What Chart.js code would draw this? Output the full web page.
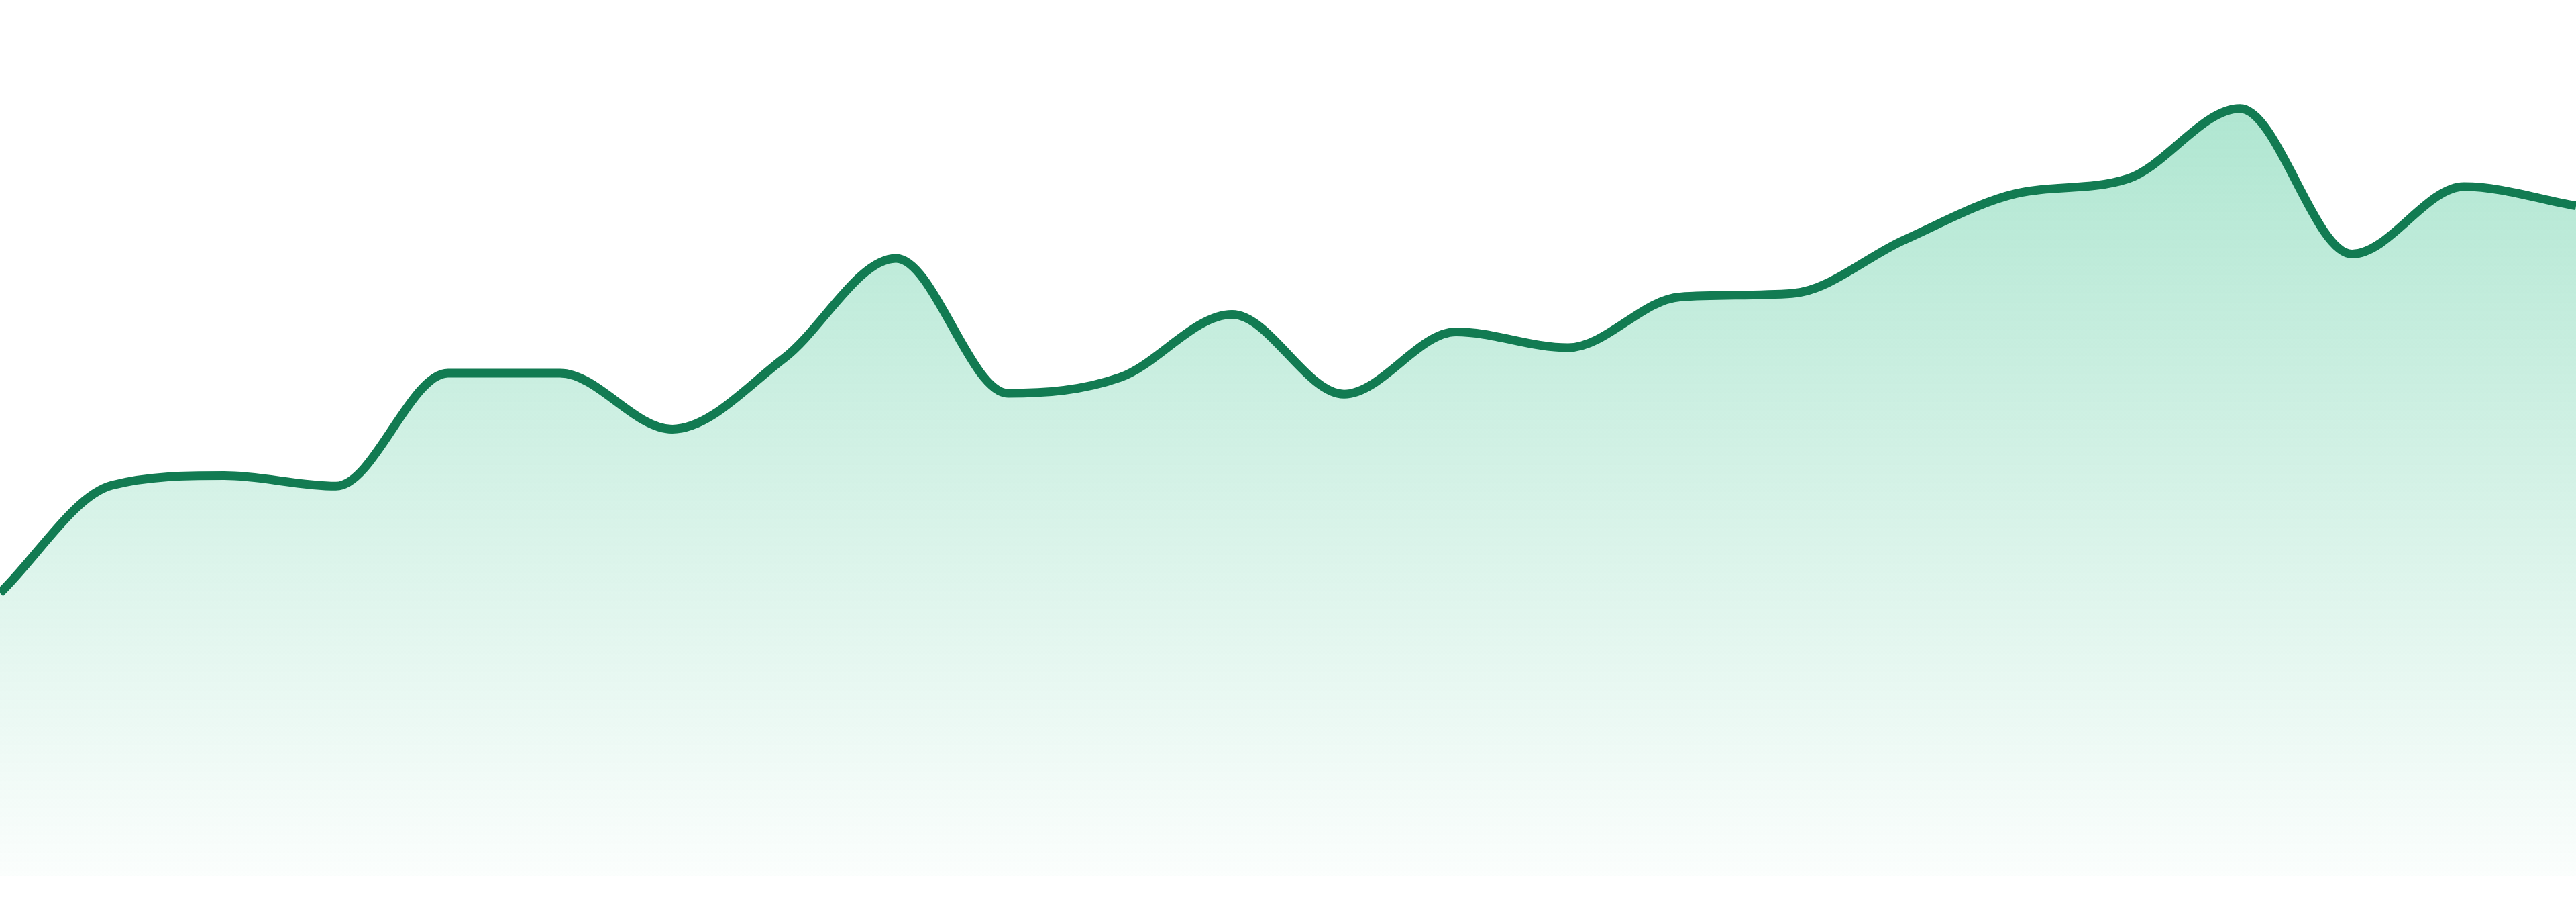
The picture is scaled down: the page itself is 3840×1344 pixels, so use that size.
<!DOCTYPE html>
<html>
<head>
<meta charset="utf-8">
<title>Area trend</title>
<script src="https://cdn.jsdelivr.net/npm/chart.js@4/dist/chart.umd.min.js"></script>
<style>
  html, body { margin: 0; padding: 0; background: #ffffff; }
  #wrap { width: 3840px; height: 1344px; }
</style>
</head>
<body>
<div id="wrap"><canvas id="chart" width="3840" height="1344"></canvas></div>
<script>
// ---------- data ----------
const LABELS = ['1', '2', '3', '4', '5', '6', '7', '8', '9', '10', '11', '12',
                '13', '14', '15', '16', '17', '18', '19', '20', '21', '22', '23', '24'];

const VALUES = [32.3, 44.6, 45.7, 44.5, 57.4, 57.4, 51.0, 59.1, 70.5, 55.1, 56.9, 64.1,
                55.0, 62.1, 60.3, 66.1, 66.5, 72.6, 77.9, 79.6, 87.6, 71.0, 78.7, 76.5];

const Y_MIN = 0;
const Y_MAX = 100;

// ---------- style ----------
const LINE_COLOR = '#127b52';

// vertical fade under the line
function areaGradient(context) {
  const chart = context.chart;
  const area = chart.chartArea;
  if (!area) return 'rgba(30,185,125,0.3)';
  const g = chart.ctx.createLinearGradient(0, area.top, 0, area.bottom);
  g.addColorStop(0, 'rgba(30,185,125,0.40)');
  g.addColorStop(1, 'rgba(30,185,125,0.02)');
  return g;
}

new Chart(document.getElementById('chart').getContext('2d'), {
  type: 'line',
  data: {
    labels: LABELS,
    datasets: [{
      data: VALUES,
      borderColor: LINE_COLOR,
      borderWidth: 13,
      backgroundColor: areaGradient,
      fill: 'start',
      cubicInterpolationMode: 'monotone',
      pointRadius: 0,
      pointHoverRadius: 0,
    }]
  },
  options: {
    responsive: false,
    devicePixelRatio: 1,
    animation: false,
    layout: { padding: { top: 0, right: 0, bottom: 39, left: 0 } },
    scales: {
      x: { display: false, offset: false },
      y: { display: false, min: Y_MIN, max: Y_MAX }
    },
    plugins: {
      legend: { display: false },
      tooltip: { enabled: false }
    }
  }
});
</script>
</body>
</html>
